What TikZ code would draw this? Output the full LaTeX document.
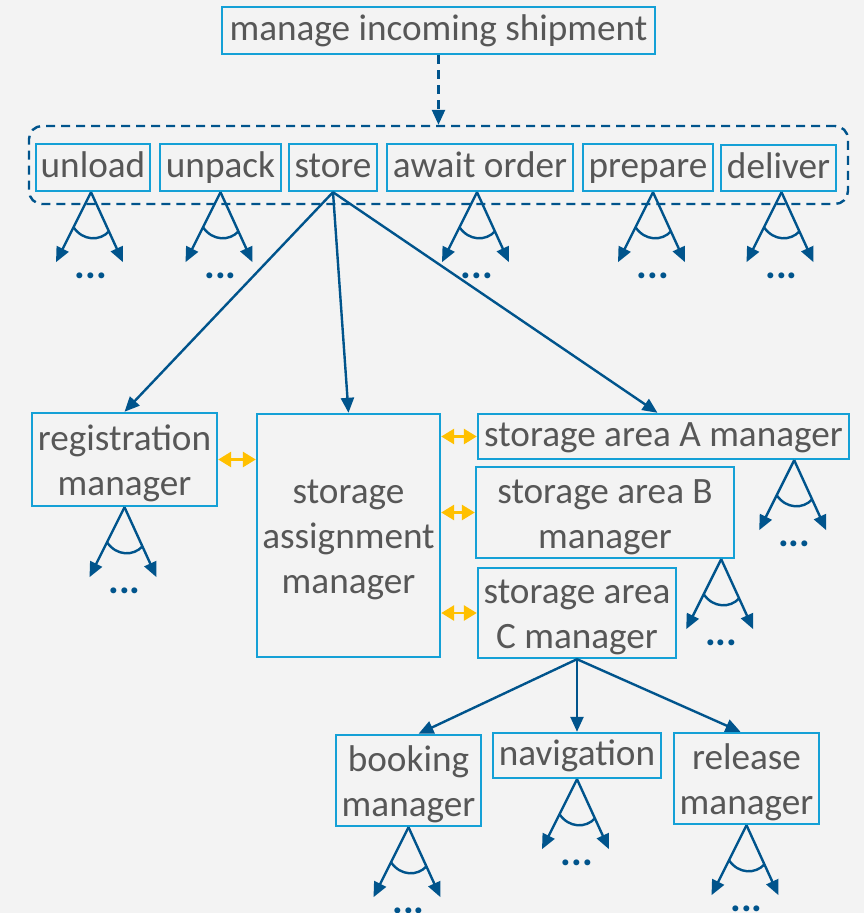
\documentclass[tikz,border=0pt]{standalone}
\usepackage{fontspec}
\setmainfont{Carlito}
\usetikzlibrary{arrows.meta,calc}
\definecolor{bg}{HTML}{F3F3F3}
\definecolor{boxc}{RGB}{20,160,214}
\definecolor{flowc}{RGB}{0,84,140}
\definecolor{txtc}{HTML}{575757}
\definecolor{yel}{HTML}{FFC000}
\newcommand{\topstrutA}{\rule{0pt}{32pt}}
\newcommand{\botstrutA}{\rule[-12pt]{0pt}{12pt}}
\newcommand{\ml}[1]{\raisebox{-4pt}[\height][\depth]{\begin{tabular}{@{}c@{}}#1\end{tabular}}}
\tikzset{
  box/.style={draw=boxc, line width=2.4pt, inner sep=0pt, align=center, text=txtc,
    font=\fontsize{37.2}{45}\selectfont,
    execute at begin node=\topstrutA, execute at end node=\botstrutA},
  mbox/.style={draw=boxc, line width=2.4pt, inner sep=0pt, text=txtc,
    font=\fontsize{37.2}{45}\selectfont},
  flow/.style={draw=flowc, line width=2.4pt},
  arr/.style={flow, -{Triangle[length=15pt,width=13pt]}},
  dasharr/.style={flow, dash pattern=on 9pt off 6pt, -{Triangle[length=15pt,width=13pt]}},
  grp/.style={draw=flowc, line width=2.4pt, dash pattern=on 9pt off 6pt, rounded corners=13pt, inner sep=0pt},
  yarr/.style={draw=yel, line width=2.8pt, {Triangle[length=13pt,width=15pt]}-{Triangle[length=13pt,width=15pt]}},
  dotsn/.style={text=flowc, anchor=base, inner sep=0pt, font=\fontsize{40}{40}\selectfont\bfseries},
}
\newcommand{\forkdraw}[2]{%
  \coordinate (#2-ap) at #1;
  \coordinate (#2-l) at ($(#2-ap)+(-35,70)$);
  \coordinate (#2-r) at ($(#2-ap)+(32,70)$);
  \draw[arr] (#2-ap) -- (#2-l);
  \draw[arr] (#2-ap) -- (#2-r);
  \draw[flow] ($(#2-ap)!0.5!(#2-l)$) .. controls ($(#2-ap)+(-8,49)$) and ($(#2-ap)+(9,49)$) .. ($(#2-ap)!0.56!(#2-r)$);
  \node[dotsn] (#2-dots) at ($(#2-ap)+(0,86)$) {...};
}
\begin{document}
\begin{tikzpicture}[x=1pt,y=-1pt]
\fill[bg] (0,0) rectangle (864,913);
\useasboundingbox (0,0) rectangle (864,913);

% top
\node[box, minimum width=433pt, minimum height=47pt] (top) at (438.5,30.5) {manage incoming shipment};
\node[grp, minimum width=819pt, minimum height=78pt] (grp) at (438.5,165) {};
\draw[dasharr] (top.south) -- (grp.north);

% row of activities
\node[box, minimum width=114pt, minimum height=47pt] (unload) at (93,167.5) {unload};
\node[box, minimum width=121pt, minimum height=47pt] (unpack) at (220.5,167.5) {unpack};
\node[box, minimum width=88pt, minimum height=47pt] (store) at (333,167.5) {store};
\node[box, minimum width=186pt, minimum height=47pt] (await) at (480,167.5) {await order};
\node[box, minimum width=130pt, minimum height=47pt] (prepare) at (648,167.5) {prepare};
\node[box, minimum width=115pt, minimum height=46pt] (deliver) at (778.5,168) {deliver};

% managers
\node[mbox, minimum width=185pt, minimum height=93pt] (reg) at (124.5,459.5) {\ml{registration\\manager}};
\node[mbox, minimum width=183pt, minimum height=243pt] (sam) at (348.5,535.5) {\ml{storage\\assignment\\manager}};
\node[box, minimum width=371pt, minimum height=45pt] (sa) at (663.5,436.5) {storage area A manager};
\node[mbox, minimum width=258pt, minimum height=91pt] (sb) at (605,512.5) {\ml{storage area B\\manager}};
\node[mbox, minimum width=198pt, minimum height=90pt] (sc) at (577,613) {\ml{storage area\\C manager}};

\node[mbox, minimum width=145pt, minimum height=91pt] (book) at (408.5,780.5) {\ml{booking\\manager}};
\node[box, minimum width=168pt, minimum height=45pt] (nav) at (577,755.5) {navigation};
\node[mbox, minimum width=145pt, minimum height=91pt] (rel) at (746.5,778.5) {\ml{release\\manager}};

% store arrows
\draw[arr] (store.south) -- (reg.north);
\draw[arr] (store.south) -- (sam.north);
\draw[arr] (store.south) -- ($(sa.north)+(-6,0)$);

% C arrows
\draw[arr] (sc.south) -- ($(book.north)+(10,0)$);
\draw[arr] (sc.south) -- (nav.north);
\draw[arr] (sc.south) -- ($(rel.north)+(-6,0)$);

% yellow
\draw[yarr] (reg.east) -- (reg.east -| sam.west);
\draw[yarr] (sa.west -| sam.east) -- (sa.west);
\draw[yarr] (sb.west -| sam.east) -- (sb.west);
\draw[yarr] (sc.west -| sam.east) -- (sc.west);

% forks
\forkdraw{($(unload.south)+(-2,0)$)}{f1}
\forkdraw{(unpack.south)}{f2}
\forkdraw{($(await.south)+(-3,0)$)}{f3}
\forkdraw{($(prepare.south)+(5,0)$)}{f4}
\forkdraw{($(deliver.south)+(3,0)$)}{f5}
\forkdraw{(reg.south)}{f6}
\forkdraw{($(sa.south east)+(-56,0)$)}{f7}
\forkdraw{($(sb.south east)+(-14,0)$)}{f8}
\forkdraw{(book.south)}{f9}
\forkdraw{(nav.south)}{f10}
\forkdraw{(rel.south)}{f11}
\end{tikzpicture}
\end{document}
